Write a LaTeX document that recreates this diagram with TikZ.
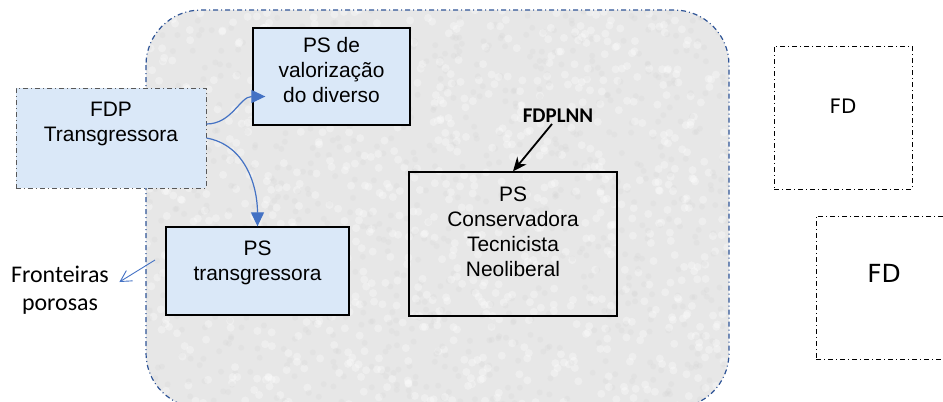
\documentclass[tikz,border=0pt]{standalone}
\usepackage{fontspec}
\setmainfont{Liberation Sans}
\newfontfamily\dvsans{DejaVu Sans}
\newfontfamily\carlito{Carlito}
\usepackage{tikz}
\usetikzlibrary{positioning}
\usetikzlibrary{arrows.meta}

\definecolor{zoneblue}{RGB}{47,85,151}
\definecolor{flowblue}{RGB}{68,114,196}
\definecolor{paleblue}{RGB}{218,232,248}
\definecolor{granite}{RGB}{231,231,231}

\begin{document}
\begin{tikzpicture}[x=1bp,y=-1bp,
  ps/.style={draw=black, line width=1.3bp, align=center, inner sep=0pt, font=\fontsize{21}{25}\selectfont},
  fd/.style={draw=black, line width=0.8bp, dash pattern=on 5bp off 3bp on 1bp off 3bp, align=center, inner sep=0pt},
  flow/.style={flowblue, line width=1.2bp, -{Triangle[length=14bp,width=13bp]}}]
\useasboundingbox (0,0) rectangle (943,401);
\fill[granite, rounded corners=55bp] (146,10) rectangle (729,408);
\begin{scope}
\clip[rounded corners=55bp] (146,10) rectangle (729,408);
\foreach \i in {1,...,900} {
  \fill[white, opacity=.3] (146+583*rnd,10+398*rnd) circle (4bp);
  \fill[gray!35, opacity=.2] (146+583*rnd,10+398*rnd) circle (3bp);
}
\end{scope}
\draw[zoneblue, line width=1.2bp, dash pattern=on 5bp off 3bp on 1bp off 3bp, rounded corners=55bp] (146,10) rectangle (729,408);

\node[ps, fill=paleblue, minimum width=157bp, minimum height=97bp] (val) at (331.5,76.5) {PS de\\valorização\\do diverso\\[-19bp]\strut};
\node[ps, fill=paleblue, draw=gray!70!black, line width=0.8bp, dash pattern=on 5bp off 3bp on 1bp off 3bp, minimum width=190bp, minimum height=100bp] (fdp) at (111,138) {FDP\\Transgressora\\\strut};
\node[ps, fill=paleblue, minimum width=183bp, minimum height=88bp] (psT) at (257.5,271) {PS\\transgressora\\[-12bp]\strut};
\node[ps, minimum width=208bp, minimum height=144bp] (psC) at (513,244) {PS\\Conservadora\\Tecnicista\\Neoliberal\\[-8bp]\strut};
\node[font=\carlito\bfseries\fontsize{21}{24}\selectfont, inner sep=1bp] (fdplnn) at (558,116) {FDPLNN};
\node[fd, minimum width=138bp, minimum height=143bp, font=\dvsans\fontsize{20}{24}\selectfont] (fd1) at (843,117.5) {FD\\[-8bp]\strut};
\node[fd, minimum width=136bp, minimum height=143bp, font=\dvsans\fontsize{25}{30}\selectfont] (fd2) at (884,287.5) {FD\\[-10bp]\strut};
\node[align=center, font=\carlito\fontsize{24}{28}\selectfont] (front) at (60,290) {Fronteiras\\porosas};
\coordinate (pore) at (155,260);

\draw[flow] ([yshift=14bp]fdp.east) to[out=0,in=180] ([xshift=13bp,yshift=-20bp]val.west);
\draw[flow] (fdp.east) to[out=-10,in=90] (psT.north);
\draw[black, line width=1.8bp, -{Stealth[length=14bp,width=12bp]}] ([xshift=-6bp]fdplnn.south) -- (psC.north);
\draw[flowblue, line width=0.9bp, -{Straight Barb[length=11bp,width=12bp]}] (pore) -- ([xshift=7bp,yshift=8bp]front.east);
\end{tikzpicture}
\end{document}
